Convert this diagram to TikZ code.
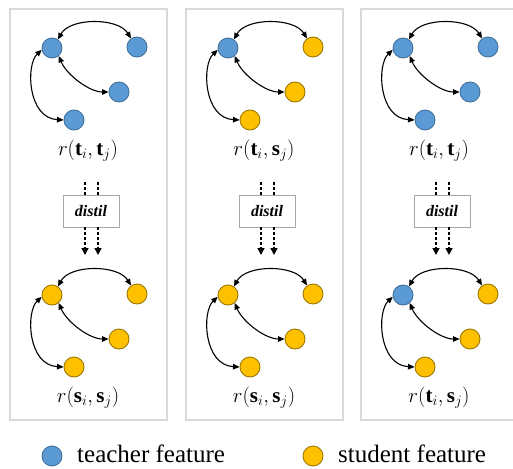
\documentclass[tikz,border=0pt]{standalone}
\usepackage{fontspec}
\setmainfont{Liberation Serif}
\usetikzlibrary{arrows.meta}
\definecolor{tblue}{HTML}{5B9BD5}
\definecolor{tbluedk}{HTML}{41719C}
\definecolor{syel}{HTML}{FFC000}
\definecolor{syeldk}{HTML}{9C7800}
\definecolor{panelgray}{HTML}{D9D9D9}
\definecolor{boxgray}{HTML}{A6A6A6}
\newcommand\mygraph[6]{%
  \begin{scope}[shift={(#2,#3)}]
    \node[#4] (#1A) at (42,48) {};
    \node[#5] (#1B) at (127,47) {};
    \node[#5] (#1C) at (109,92) {};
    \node[#5] (#1D) at (64,120) {};
    \node[lbl] (#1L) at (78,151) {#6};
    \draw[rel] (#1A.55) .. controls +(12,-22) and +(-13,-21) .. (#1B.125);
    \draw[rel] (#1A.310) .. controls +(8,19) and +(-19,0) .. (#1C.180);
    \draw[rel] (#1A.190) .. controls +(-16,15) and +(-36,-2) .. (#1D.180);
  \end{scope}}
\newcommand\mypanel[8]{%
  \begin{scope}[shift={(#2,0)}]
    \node[panel] (#1P) at (78.5,214.5) {};
    \node[distbox] (#1box) at (81,211) {distil};
    \coordinate (#1u1) at (75,182);
    \coordinate (#1u2) at (88,182);
    \coordinate (#1d1) at (75,255);
    \coordinate (#1d2) at (88,255);
    \draw[dist] (#1u1) -- (#1u1 |- #1box.north);
    \draw[dist] (#1u2) -- (#1u2 |- #1box.north);
    \draw[dist,-{Triangle[length=7pt,width=7pt]}] (#1d1 |- #1box.south) -- (#1d1);
    \draw[dist,-{Triangle[length=7pt,width=7pt]}] (#1d2 |- #1box.south) -- (#1d2);
  \end{scope}
  \mygraph{#1t}{#2}{0}{#3}{#4}{#5}
  \mygraph{#1b}{#2}{247}{#6}{#7}{#8}}
\begin{document}
\begin{tikzpicture}[x=1pt,y=-1pt,
  teach/.style={circle,fill=tblue,draw=tbluedk,line width=0.9pt,minimum size=20pt,inner sep=0pt},
  stud/.style={circle,fill=syel,draw=syeldk,line width=0.9pt,minimum size=20pt,inner sep=0pt},
  rel/.style={line width=1.1pt,{Triangle[length=6.5pt,width=5.5pt]}-{Triangle[length=6.5pt,width=5.5pt]}},
  dist/.style={line width=1.5pt,dash pattern=on 3pt off 2pt},
  panel/.style={draw=panelgray,line width=1.5pt,minimum width=157pt,minimum height=411pt,inner sep=0pt},
  distbox/.style={draw=boxgray,fill=white,line width=0.8pt,minimum width=56pt,minimum height=32pt,inner sep=0pt,font=\fontsize{16}{18}\selectfont\bfseries\itshape},
  lbl/.style={font=\fontsize{21}{23}\selectfont,inner sep=0pt},
  legtext/.style={anchor=base west,inner sep=0pt,font=\fontsize{25}{27}\selectfont}]
\useasboundingbox (0,0) rectangle (513,468);
\clip (0,0) rectangle (513,468);
\fill[white] (0,0) rectangle (513,468);
\mypanel{p}{10}{teach}{teach}{$r(\mathbf{t}_i,\mathbf{t}_j)$}{stud}{stud}{$r(\mathbf{s}_i,\mathbf{s}_j)$}
\mypanel{q}{186}{teach}{stud}{$r(\mathbf{t}_i,\mathbf{s}_j)$}{stud}{stud}{$r(\mathbf{s}_i,\mathbf{s}_j)$}
\mypanel{w}{361}{teach}{teach}{$r(\mathbf{t}_i,\mathbf{t}_j)$}{teach}{stud}{$r(\mathbf{t}_i,\mathbf{s}_j)$}
\node[teach] (lt) at (52,456) {};
\node[legtext] (ltx) at (77,462) {teacher feature};
\node[stud] (ls) at (313,456) {};
\node[legtext] (lsx) at (338,462) {student feature};
\end{tikzpicture}
\end{document}
